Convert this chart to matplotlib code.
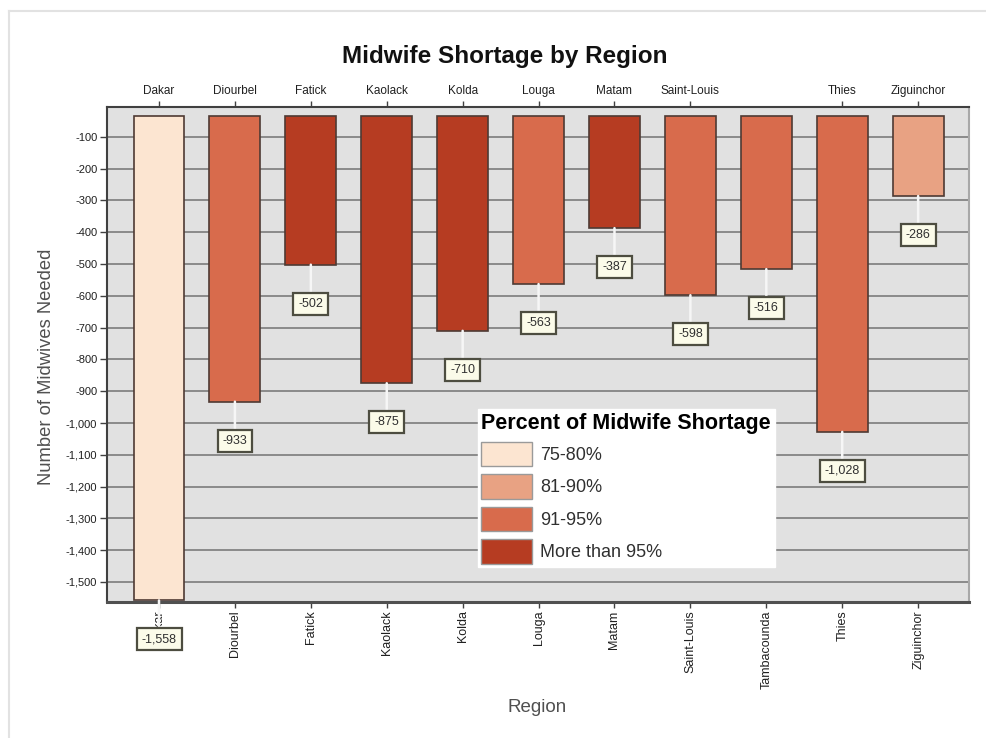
import numpy as np
import matplotlib
matplotlib.use("Agg")
import matplotlib.pyplot as plt
from matplotlib.patches import Patch
from matplotlib.lines import Line2D
from matplotlib.ticker import FuncFormatter

plt.rcParams["font.family"] = ["Liberation Sans", "DejaVu Sans"]

regions = ["Dakar", "Diourbel", "Fatick", "Kaolack", "Kolda", "Louga", "Matam",
           "Saint-Louis", "Tambacounda", "Thies", "Ziguinchor"]
needed = [-1558, -933, -502, -875, -710, -563, -387, -598, -516, -1028, -286]
shortage_class = [0, 2, 3, 3, 3, 2, 3, 2, 2, 2, 1]
# the top axis leaves out the long Tambacounda label
top_labels = ["Dakar", "Diourbel", "Fatick", "Kaolack", "Kolda", "Louga", "Matam",
              "Saint-Louis", "Thies", "Ziguinchor"]

class_labels = ["75-80%", "81-90%", "91-95%", "More than 95%"]
class_colors = ["#fce5d1", "#e8a283", "#d86b4c", "#b63c22"]

# bars hang from just under the top of the plot
base = -35

fig = plt.figure(figsize=(9.87, 7.38), dpi=100)
ax = fig.add_axes([107 / 987, 136 / 738, 862 / 987, 495 / 738])
ax.set_facecolor("#e1e1e1")

x = np.arange(len(regions))
vals = np.array(needed)
colors = [class_colors[c] for c in shortage_class]
ax.bar(x, vals - base, bottom=base, width=0.67, color=colors,
       edgecolor="#4e3a33", linewidth=1.2, zorder=2)

# value boxes below each bar end
for xi, v in zip(x, needed):
    ax.annotate(f"{v:,}", xy=(xi, v), xytext=(0, -28), textcoords="offset points",
                ha="center", va="center", fontsize=9, color="#303030",
                annotation_clip=False, zorder=4,
                bbox=dict(boxstyle="square,pad=0.4", fc="#fbfbe9", ec="#4d4d40", lw=1.6),
                arrowprops=dict(arrowstyle="-", color="#f6f6f6", lw=1.8,
                                shrinkA=0, shrinkB=0))

ax.set_xlim(-0.685, 10.67)
ax.set_ylim(-1563, -6)
ax.set_yticks(np.arange(-100, -1600, -100))
ax.yaxis.set_major_formatter(FuncFormatter(lambda v, p: f"{int(v):,}"))
ax.set_xticks(x)
ax.set_xticklabels(regions, rotation=90, fontsize=9, color="#202020")
ax.tick_params(axis="x", length=4, width=1, pad=2, color="#404040")
ax.tick_params(axis="y", labelsize=8, labelcolor="#202020", length=5, width=1,
               pad=2, color="#404040")
ax.yaxis.grid(True, color="#7c7c7c", lw=1.2)
ax.set_axisbelow(True)

top = ax.secondary_xaxis("top")
top.set_xticks([regions.index(r) for r in top_labels])
top.set_xticklabels(top_labels, fontsize=8.5, color="#202020")
top.tick_params(length=4, width=1, pad=3, color="#404040")
top.spines["top"].set_visible(False)

for side in ["top", "left"]:
    ax.spines[side].set_color("#404040")
    ax.spines[side].set_linewidth(1.5)
ax.spines["bottom"].set_color("#505050")
ax.spines["bottom"].set_linewidth(2.2)
ax.spines["right"].set_color("#a8a8a8")
ax.spines["right"].set_linewidth(1.5)

handles = [Patch(facecolor=c, edgecolor="#9a9a9a", lw=1) for c in class_colors]
leg = ax.legend(handles, class_labels, title="Percent of Midwife Shortage",
                loc="upper left", bbox_to_anchor=(0.43, 0.39), fontsize=13,
                title_fontproperties={"weight": "bold", "size": 15.5},
                handlelength=2.8, handleheight=1.7, labelspacing=0.45,
                handletextpad=0.45, borderpad=0.2, borderaxespad=0,
                frameon=True, fancybox=False, framealpha=1)
leg.get_frame().set_facecolor("white")
leg.get_frame().set_edgecolor("white")
leg._legend_box.align = "left"
for t in leg.get_texts():
    t.set_color("#303030")
leg.set_zorder(5)

fig.text(505 / 987, 1 - 57 / 738, "Midwife Shortage by Region", ha="center",
         va="center", fontsize=17.5, fontweight="bold", color="#111111")
fig.text(47 / 987, 1 - 367 / 738, "Number of Midwives Needed", rotation=90,
         ha="center", va="center", fontsize=13.2, color="#505050")
fig.text(537 / 987, 1 - 707 / 738, "Region", ha="center", va="center",
         fontsize=13.5, color="#505050")

# thin outer frame
fig.add_artist(Line2D([9 / 987, 9 / 987], [0, 1 - 11 / 738], color="#e2e2e2", lw=1.5))
fig.add_artist(Line2D([9 / 987, 1], [1 - 11 / 738, 1 - 11 / 738], color="#e2e2e2", lw=1.5))

fig.savefig("out.png", dpi=100)
